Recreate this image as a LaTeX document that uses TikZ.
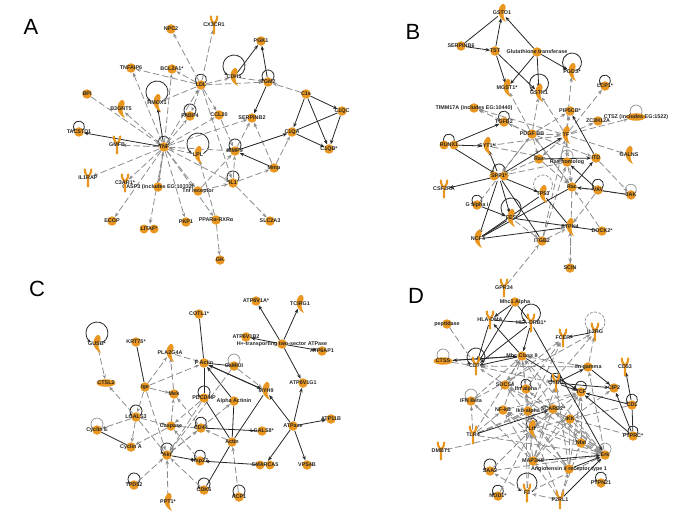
\documentclass[tikz,border=0pt]{standalone}
\usepackage{fontspec}
\setmainfont{Liberation Sans}
\usepackage{xcolor}
\usetikzlibrary{shapes.geometric,arrows.meta,positioning,backgrounds}
\definecolor{geneorange}{HTML}{E8961F}
\definecolor{linkgray}{HTML}{8C8C8C}

\tikzset{
    tag/.style={font=\fontsize{5.4}{6}\selectfont\bfseries, text=black!85, inner sep=0pt},
    dot/.style={circle, fill=geneorange, minimum size=9.5pt, inner sep=0pt},
    oval/.style={ellipse, fill=geneorange, minimum width=19pt, minimum height=7.5pt, inner sep=0pt},
    gene/.style={circle, minimum size=10pt, inner sep=0pt},
    panel/.style={font=\fontsize{22}{24}\selectfont, inner sep=0pt},
    lnk/.style={-{Stealth[length=4.5pt,width=3.5pt]}, draw=linkgray, line width=0.8pt, dash pattern=on 6.5pt off 3pt},
    rel/.style={-{Stealth[length=4.5pt,width=3.5pt]}, draw=black!85, line width=0.8pt},
    tie/.style={draw=black!85, line width=0.8pt},
    selfrel/.style={-{Stealth[length=3.5pt,width=3pt]}, draw=black!85, line width=0.8pt},
    selflnk/.style={-{Stealth[length=3.5pt,width=3pt]}, draw=linkgray, line width=0.7pt},
    selfdash/.style={draw=linkgray, line width=0.7pt, dash pattern=on 3pt off 1.5pt},
    recep/.pic={
        \draw[geneorange, line width=2.2pt, line cap=round] (-3.2,-8.5) .. controls (-3.2,-4) and (-1,-3) .. (0,-1) -- (0,8.5);
        \draw[geneorange, line width=2.2pt, line cap=round] (3.2,-8.5) .. controls (3.2,-4) and (1,-3) .. (0,-1);
    },
    hook/.pic={
        \fill[geneorange] (0.5,-9) .. controls (-5.5,-5) and (-5,5) .. (4,9)
            .. controls (1.5,5) and (0.5,1) .. (3,-3) .. controls (4.5,-6) and (3,-9.5) .. (0.5,-9);
    },
    twin/.pic={
        \fill[geneorange] (-5,0) circle[radius=4.5pt] (5,0) circle[radius=4.5pt];
    }
}

\begin{document}
\begin{tikzpicture}[x=1pt,y=-1pt]
\useasboundingbox (0,0) rectangle (685,513);

\node[panel] (lettA) at (31,27) {A};
\node[panel] (lettB) at (413,32) {B};
\node[panel] (lettC) at (37,289) {C};
\node[panel] (lettD) at (416,296) {D};

% plain round genes
\foreach \n/\x/\y/\txt in {
    NPC/171/29/NPC2, PGK/261/41/PGK1, BCL/172/69/BCL2A1*, TNFAIP/131/68/TNFAIP6, BPI/87/94/BPI,
    TACS/79/132/TACSTD1, LDL/201/85/LDL, TGM/268/82/TGM2, FABP/190/116/FABP4, CCL/219/115/CCL20,
    SERPB/252/118/SERPINB2, Cs/306/94/C1s, CQC/342/111/C1QC, CQA/292/132/C1QA, CQB/329/149/C1QB*,
    MMP/235/151/MMP9, Mmp/274/168/Mmp, IL/233/183/IL1, TNF/164/147/TNF, CASP/158/187/{CASP3 (includes EG:10332)},
    TnfR/198/191/Tnf receptor, ECOP/112/221/ECOP, PKP/186/222/PKP1, PPAR/216/220/PPARα-RXRα,
    SLC/270/221/SLC2A3, GK/220/260/GK,
    SERPF/461/46/SERPINB6, TST/495/51/TST, Glut/537/52/Glutathione transferase, LCP/605/86/LCP1*,
    PIP/570/111/PIP5CB*, TIMM/474/108/{TIMM17A (includes EG:10440)}, ZCH/598/121/ZC3H12A, TGF/504/122/TGFB2,
    PDGF/532/134/PDGF BB, Ras/539/159/Ras, RasH/567/162/Ras homolog, ITD/596/158/ITD, Rac/572/187/Rac,
    VAV/598/190/VAV, JAK/631/195/JAK, Galpha/477/205/G alpha i, DOCK/602/231/DOCK2*, ITGB/542/241/ITGB2, SCIN/570/268/SCIN,
    KRT/136/342/KRT75*, Ige/145/387/Ige, Mek/174/394/Mek, LGAL/136/417/LGALS3, Casp/171/426/Caspase,
    CycE/97/430/Cyclin E, CycA/131/447/Cyclin A, Akt/167/455/Akt, TPD/134/485/TPD52,
    COTL/199/314/COTL1*, FActin/204/363/F Actin, CaMK/234/366/CaMKII, PDCD/204/398/PDCD4IP,
    AlphaA/234/401/Alpha Actinin, CDff/201/428/CD44, LGALe/262/431/LGALS8*, Actin/232/442/Actin,
    Hsp/200/461/Hsp27, CDK/204/490/CDK6, ACP/239/497/ACP1, ATPa/256/301/ATP6V1A*, ATPb/246/337/ATP6V1B2,
    Htwo/282/344/H+-transporting two-sector ATPase, ATPap/322/351/ATP6AP1, ATPg/303/383/ATP6V1G1,
    ATPase/293/426/ATPase, ATPi/331/419/ATP11B, VPS/307/465/VPS4B,
    Mhca/515/302/Mhc1 Alpha, pept/447/324/peptidase, MhcII/522/356/Mhc Class II, Ifng/588/367/Ifn gamma,
    CIP/614/388/CIP2, SOCS/505/385/SOCS4, Ifna/526/389/Ifn alpha, TCF/581/392/TCF,
    IFNb/471/401/IFN Beta, NFk/503/410/NF-kB, Ikb/528/411/Ikb-alpha, SCAR/553/409/SCARB2*, IKK/570/419/IKK,
    CDo/632/405/CD1, PTPR/633/436/PTPRC*, Nfat/581/443/Nfat, Erk/605/455/Erk, MAP/533/461/MAP3K8,
    Agt/569/469/Angiotensin II receptor type 1, SAA/490/471/SAA2, PTPN/601/483/PTPN21, NOD/498/496/NOD1*%
} \node[dot, label={[tag]center:\txt}] (\n) at (\x,\y) {};

% twin circles
\foreach \n/\x/\y/\txt in {
    LITAF/149/229/LITAF*, RUNX/449/145/RUNX1, SPP/499/176/SPP1*, SMARCA/265/465/SMARCA5%
} {
    \pic at (\x,\y) {twin};
    \node[gene, label={[tag]center:\txt}] (\n) at (\x,\y) {};
}

% wide ellipses
\foreach \n/\x/\y/\txt in {
    CTSZ/636/117/{CTSZ (includes EG:1522)}, CTSL/106/383/CTSL2, CTSS/443/361/CTSS%
} \node[oval, label={[tag]center:\txt}] (\n) at (\x,\y) {};

% receptors
\foreach \n/\x/\y/\txt in {
    CXCR/214/25/CX3CR1, GMFB/117/145/GMFB, ILRAP/88/178/IL1RAP, CAR/125/183/C3AR1*, CSFR/444/189/CSF2RA,
    GPR/504/288/GPR34, HLAD/490/320/HLA-DMA, HLAB/531/323/HLA-DRB1*, FCER/563/338/FCER, ILRG/595/332/IL2RG,
    CDft/625/367/CD53, CDsf/476/366/CD74, CYB/556/383/CYBB, TLR/473/435/TLR4, DMBT/441/451/DMBT1,
    Fthree/527/493/F3, PTRL/560/500/P2RL1%
} {
    \pic at (\x,\y) {recep};
    \node[gene, label={[tag]center:\txt}] (\n) at (\x,\y) {};
}

% crescent shaped genes
\foreach \n/\x/\y/\txt in {
    CDH/234/77/CDH5, BGNT/121/109/B3GNT5, HMOX/157/103/HMOX1, LPL/198/155/LPL,
    GSTO/502/13/GSTO1, PGDS/572/72/PGDS*, MGST/507/88/MGST1*, GSTK/539/93/GSTK1, TF/566/135/TF,
    SYT/487/146/SYT1*, GALNS/629/155/GALNS, TPff/543/194/TP53, FES/511/218/FES, PTPF/570/227/PTPN4, NCF/478/239/NCF4,
    GUSB/97/344/GUSB*, PLA/170/353/PLA2G4A, PPT/168/502/PPT1*, MYH/266/391/MYH9, TCIRG/300/304/TCIRG1,
    Ltf/532/429/Ltf%
} {
    \pic at (\x,\y) {hook};
    \node[gene, label={[tag]center:\txt}] (\n) at (\x,\y) {};
}

\begin{scope}[on background layer]
% self loops
\foreach \n/\rad in {
    TACS/5.5, CDH/11, HMOX/11, LDL/5.5, FABP/6, TGM/6, LPL/11, TNF/5.5, MMP/6, IL/6,
    PGDS/9.5, GSTK/9.5, LCP/5.5, TGF/5.5, RUNX/5.5, SPP/6, VAV/5.5, Galpha/5, FES/10,
    GUSB/11, LGAL/6, Akt/6, TPD/6, PDCD/6, CDff/5.5, Hsp/5.5, CDK/6, ACP/6,
    HLAB/9.5, CDsf/9, CDo/5.5, Ifna/5, CYB/5, TCF/5.5, PTPR/5, Ltf/5.5, Fthree/10, SAA/6, NOD/5.5, PTPN/5.5%
} \draw[selfrel] ([yshift=\rad pt]\n.center) ++(-60:\rad pt) arc[start angle=-60, end angle=235, radius=\rad pt];
\foreach \n/\rad in {CTSZ/6, RasH/6, JAK/5.5, CycE/6, CaMK/6, CTSS/6, IFNb/6, Nfat/6, Erk/6} 
    \draw[selflnk] ([yshift=\rad pt]\n.center) ++(-60:\rad pt) arc[start angle=-60, end angle=235, radius=\rad pt];
\foreach \n/\rad in {TPff/9.5, ILRG/10} 
    \draw[selfdash] ([yshift=\rad pt]\n.center) circle[radius=\rad pt];

% panel A
\foreach \a/\b in {TNF/TNFAIP, TNF/BGNT, BPI/TNF, TNF/GMFB, TNF/ILRAP, TNF/CAR, TNF/CASP, TNF/ECOP, TNF/LITAF, TNF/PKP,
    TNF/BCL, TNF/FABP, TNF/CCL, TNF/LDL, TNF/MMP, TNF/IL, TNF/TnfR, TNF/PPAR, LPL/TNF, TNF/SERPB, CASP/TNF,
    LDL/NPC, LDL/CXCR, LDL/BCL, LDL/TNFAIP, LDL/HMOX, LDL/CDH, LDL/TGM, LDL/CCL, LDL/FABP, LDL/IL, CCL/MMP,
    IL/Mmp, IL/SLC, IL/MMP, TnfR/IL, TnfR/MMP, PPAR/GK, PPAR/LPL, Mmp/CQA, Cs/TGM, CDH/TGM, Mmp/SERPB, MMP/SERPB}
    \draw[lnk] (\a) -- (\b);
\foreach \a/\b in {TNF/HMOX, TNF/TACS, CDH/PGK, TGM/PGK, TGM/SERPB, Cs/CQC, Cs/CQA, Cs/CQB, CQC/CQB, CQA/CQB, MMP/CQA, Mmp/MMP}
    \draw[rel] (\a) -- (\b);
\draw[tie] (CQC) -- (CQA);

% panel B
\foreach \a/\b in {PDGF/MGST, PDGF/GSTK, PDGF/PIP, PDGF/TIMM, PDGF/TGF, PDGF/Ras, PDGF/Rac, PDGF/ITD, PDGF/SPP, PDGF/TF,
    TF/GSTK, TF/PGDS, TF/LCP, TF/CTSZ, TF/ZCH, TF/GALNS, TF/PIP, TF/TIMM, TF/SYT, TF/RasH, TF/Rac, TF/Ras,
    SYT/RasH, Ras/SPP, RasH/SPP, RasH/Rac, ITD/JAK, JAK/Rac, Galpha/PDGF, Rac/SCIN, SCIN/PTPF, Rac/PDGF,
    VAV/PTPF, DOCK/Rac, ITGB/PTPF, FES/ITGB, ITGB/RasH, ITGB/TF, GPR/ITGB, Ras/Rac}
    \draw[lnk] (\a) -- (\b);
\foreach \a/\b in {TST/GSTO, Glut/GSTO, TST/MGST, TST/GSTK, Glut/MGST, Glut/GSTK, Glut/PGDS, SERPF/TST,
    RUNX/TGF, RUNX/SYT, RUNX/SPP, SPP/SYT, SPP/TF, Ras/ITD, ITD/PIP, SPP/CSFR, SPP/TPff, SPP/NCF, SPP/FES,
    Rac/ITD, VAV/Rac, VAV/RasH, Galpha/FES}
    \draw[rel] (\a) -- (\b);
\foreach \a/\b in {SERPF/GSTO, NCF/PTPF, FES/DOCK, PTPF/TPff, SPP/ITGB, NCF/FES, TPff/NCF, Rac/NCF, JAK/VAV}
    \draw[tie] (\a) -- (\b);

% panel C
\foreach \a/\b in {GUSB/CTSL, Ige/PLA, Ige/FActin, PLA/FActin, Ige/Mek, Ige/Akt, Ige/LGAL, LGAL/CTSL, LGAL/CycE, LGAL/CycA, LGAL/Casp, LGAL/Akt,
    Mek/PLA, Casp/Mek, Casp/CycA, TPD/Akt, PPT/Akt, CDff/Mek, PDCD/Casp, Akt/AlphaA, Hsp/Casp, Akt/CDff, CDK/Akt,
    ACP/Actin, CaMK/MYH, PDCD/Akt, CaMK/Akt, Actin/CDff, CDff/Casp}
    \draw[lnk] (\a) -- (\b);
\foreach \a/\b in {AlphaA/FActin, FActin/MYH, MYH/FActin, Akt/Hsp, SMARCA/Hsp, ATPase/MYH, ATPase/ATPg, ATPase/ATPi,
    ATPase/SMARCA, ATPase/VPS, Htwo/ATPa, Htwo/TCIRG, Htwo/ATPb, Htwo/ATPap, Htwo/ATPg}
    \draw[rel] (\a) -- (\b);
\foreach \a/\b in {KRT/Ige, CycE/CycA, COTL/FActin, FActin/PDCD, PDCD/Actin, AlphaA/Actin, MYH/Actin, CDff/LGALe, Actin/CDK, FActin/CaMK}
    \draw[tie] (\a) -- (\b);

% panel D
\foreach \a/\b in {pept/CDsf, CTSS/CDsf, IFNb/MhcII, TLR/IFNb, DMBT/Ltf, CDsf/CYB, TLR/MhcII, NFk/MhcII, Ikb/MhcII, SCAR/MhcII,
    SOCS/FCER, Ifna/FCER, Ikb/FCER, Ikb/ILRG, IFNb/ILRG, NFk/TCF, TLR/TCF, TLR/Erk, TLR/NFk, TLR/Ikb, Ltf/Erk, Ltf/TCF, Ltf/Ifna,
    Ltf/NFk, Ltf/SCAR, Ltf/IKK, MAP/TCF, MAP/CYB, MAP/IFNb, MAP/NFk, MAP/Ikb, MAP/SCAR, MAP/IKK, Agt/TCF, Agt/CYB, Agt/IKK, Agt/Ikb,
    Agt/NFk, Agt/SOCS, SAA/Erk, SAA/Ltf, NOD/Ltf, Fthree/Erk, Fthree/Ltf, Fthree/Ifna, Fthree/SAA,
    PTRL/Fthree, PTRL/Ltf, PTRL/MAP, PTRL/Agt, PTRL/Nfat, Nfat/TCF, Nfat/SCAR, Nfat/Erk,
    IKK/CIP, IKK/Erk, IKK/SOCS, Erk/Ifng, Erk/NFk, Erk/Ikb, Erk/SCAR, Erk/SOCS, Erk/MhcII, Erk/Ifna,
    SOCS/CDsf, Ifng/MhcII, Ifng/ILRG, Ifng/CDsf, MhcII/SOCS, MhcII/Ifna, CDo/IKK, PTPR/IKK}
    \draw[lnk] (\a) -- (\b);
\foreach \a/\b in {Mhca/HLAD, Mhca/CDsf, HLAB/CDsf, HLAD/CDsf, HLAB/MhcII, MhcII/HLAD, CTSS/MhcII, MhcII/CTSS, ILRG/FCER,
    HLAB/Erk, MhcII/TCF, CYB/Ifng, CYB/CIP, Ifng/CIP, CDo/CDft, TLR/SCAR, CYB/TCF, CDo/TCF, PTPR/TCF, MAP/Erk,
    Agt/Erk, PTRL/Erk, PTPR/CIP}
    \draw[rel] (\a) -- (\b);
\foreach \a/\b in {Mhca/HLAB, HLAD/HLAB, CDsf/MhcII, PTPR/CDo}
    \draw[tie] (\a) -- (\b);
\end{scope}

\end{tikzpicture}
\end{document}
